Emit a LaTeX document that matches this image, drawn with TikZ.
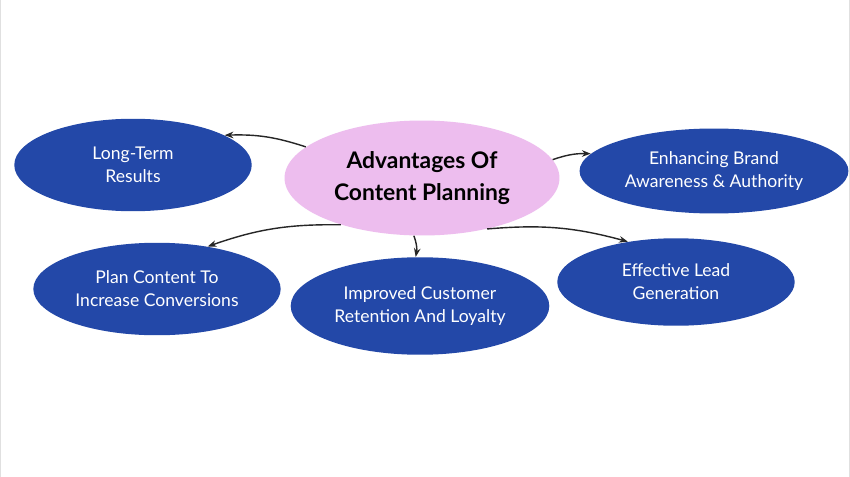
\documentclass[tikz,border=0pt]{standalone}
\usepackage{fontspec}
\setmainfont{Lato}
\usetikzlibrary{shapes.geometric,arrows.meta}
\definecolor{blobblue}{HTML}{2348A8}
\definecolor{blobpink}{HTML}{EDBDEE}
\tikzset{
  blob/.style={ellipse, fill=blobblue, text=white, align=center,
    minimum width=4.75cm, minimum height=1.85cm, font=\fontsize{10}{13}\selectfont},
  core/.style={ellipse, fill=blobpink, text=black, align=center,
    minimum width=5.5cm, minimum height=2.3cm, font=\bfseries\fontsize{13}{18}\selectfont},
  link/.style={-{Stealth[length=5pt]}, thick, black!85}
}
\begin{document}
\begin{tikzpicture}[x=0.02cm, y=-0.02cm]
  \useasboundingbox[fill=white] (0,0) rectangle (850,477);
  \draw[black!12] (0.5,0) -- (0.5,477) (849.5,0) -- (849.5,477);
  % centre
  \node[core] (core) at (422,178) {Advantages Of\\Content Planning};
  % outer blobs
  \node[blob] (longterm) at (133,165) {Long-Term\\Results};
  \node[blob, minimum height=1.7cm] (brand) at (714,171) {Enhancing Brand\\Awareness \& Authority};
  \node[blob] (plan) at (157,289) {Plan Content To\\Increase Conversions};
  \node[blob, minimum height=1.95cm] (retain) at (420,306) {Improved Customer\\Retention And Loyalty};
  \node[blob, minimum height=1.75cm] (lead) at (676,282) {Effective Lead\\Generation};
  % arrows
  \draw[link] (core.165) to[bend right=10] (longterm.18);
  \draw[link] (core.8) to[bend left=10] (brand.172);
  \draw[link] (core.210) to[bend right=10] (plan.40);
  \draw[link] (core.262) to[bend left=15] (retain.95);
  \draw[link] (core.322) to[bend left=10] (lead.140);
\end{tikzpicture}
\end{document}
